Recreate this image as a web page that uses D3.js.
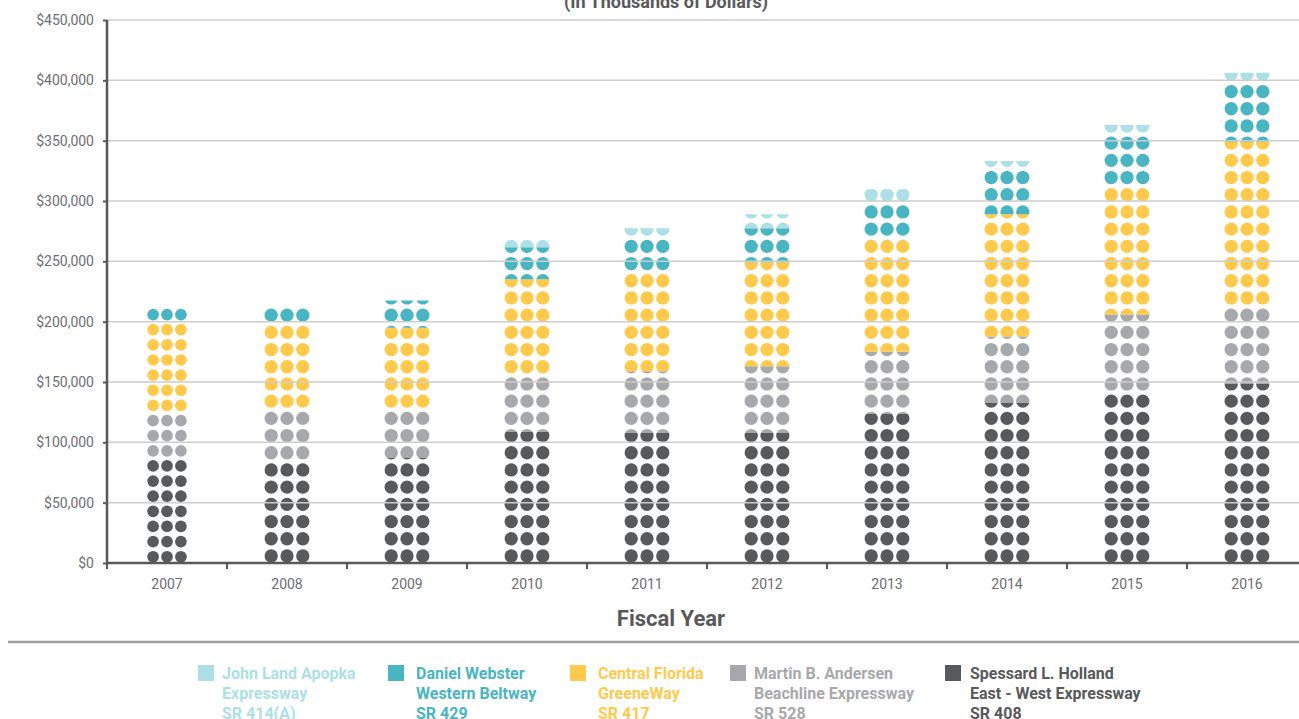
<!DOCTYPE html>
<html><head><meta charset="utf-8">
<script src="https://cdn.jsdelivr.net/npm/d3@7"></script>
<style>body{margin:0;background:#fff;} svg{display:block;font-family:Roboto,"Noto Sans",sans-serif;}</style>
</head><body>
<svg id="chart" width="1299" height="719"></svg>
<script>
// ---- data (thousands of dollars) ----
const years = ["2007","2008","2009","2010","2011","2012","2013","2014","2015","2016"];
const seriesKeys = ["sr408","sr528","sr417","sr429","sr414"];
const sr408 = [86400, 83600, 87500, 108600, 107700, 108200, 123800, 133000, 141500, 148700];
const sr528 = [37400, 42800, 39500, 47200, 51200, 54800, 51200, 54700, 64500, 64300];
const sr417 = [75500, 71600, 68000, 79400, 82800, 86200, 92500, 101300, 107000, 136000];
const sr429 = [12100, 14300, 22600, 26400, 28300, 28200, 31200, 35800, 42800, 49700];
const sr414 = [0, 0, 0, 6300, 7400, 11600, 11100, 8300, 7200, 7500];
const yTicks = [0, 50000, 100000, 150000, 200000, 250000, 300000, 350000, 400000, 450000];
const legendOrder = ["sr414","sr429","sr417","sr528","sr408"];
const legendLines = {
  sr414: ["John Land Apopka","Expressway","SR 414(A)"],
  sr429: ["Daniel Webster","Western Beltway","SR 429"],
  sr417: ["Central Florida","GreeneWay","SR 417"],
  sr528: ["Martin B. Andersen","Beachline Expressway","SR 528"],
  sr408: ["Spessard L. Holland","East - West Expressway","SR 408"]
};
const titleText = "(In Thousands of Dollars)";
const xTitle = "Fiscal Year";

// ---- styles ----
const colors = {sr414:"#acdfe6", sr429:"#49b5c2", sr417:"#ffca4c", sr528:"#a7a8ab", sr408:"#58595b"};
const axisColor = "#58595b", textColor = "#6d6e71", gridColor = "#cdcdcd";

const svg = d3.select("#chart");
const x = d3.scaleBand().domain(years).range([107, 1307]).padding(0);
const y = d3.scaleLinear().domain([0, 450000]).range([563, 20]);

const table = years.map((yr, i) => ({year: yr, sr408: sr408[i], sr528: sr528[i], sr417: sr417[i], sr429: sr429[i], sr414: sr414[i]}));
const stacked = d3.stack().keys(seriesKeys)(table);

// title (partially cut off at top)
svg.append("text").attr("x", 666).attr("y", 8).attr("text-anchor", "middle")
  .attr("font-size", 18).attr("font-weight", 700).attr("fill", "#58595b").text(titleText);

// dots
const defs = svg.append("defs");
const gBars = svg.append("g");
stacked.forEach(layer => {
  layer.forEach((d, i) => {
    if (d[1] - d[0] <= 0) return;
    const yr = years[i];
    const s = yr === "2007" ? 0.88 : 1;
    const pitchY = 17.2 * s, pitchX = 15.8 * s, r = 6.65 * s;
    const cx = x(yr) + x.bandwidth() / 2;
    const top = y(d[1]), bot = y(d[0]);
    const id = `clip-${layer.key}-${yr}`;
    defs.append("clipPath").attr("id", id).append("rect")
      .attr("x", cx - 30).attr("width", 60).attr("y", top).attr("height", bot - top);
    const base = y(0) - r - 0.4;
    const nRows = Math.ceil((y(0) - top) / pitchY) + 1;
    const dots = [];
    d3.range(nRows).forEach(k => {
      const cy = base - k * pitchY;
      if (cy - r < bot && cy + r > top) {
        [-1, 0, 1].forEach(c => dots.push({cx: cx + c * pitchX, cy}));
      }
    });
    gBars.append("g").attr("clip-path", `url(#${id})`)
      .selectAll("circle").data(dots).join("circle")
      .attr("cx", p => p.cx).attr("cy", p => p.cy).attr("r", r)
      .attr("fill", colors[layer.key]);
  });
});

// gridlines (on top of dots)
svg.append("g").selectAll("line").data(yTicks.filter(t => t > 0)).join("line")
  .attr("x1", 107).attr("x2", 1299).attr("y1", t => y(t)).attr("y2", t => y(t))
  .attr("stroke", gridColor).attr("stroke-width", 1.5);

// y axis
const yAxis = svg.append("g").attr("transform", "translate(107,0)")
  .call(d3.axisLeft(y).tickValues(yTicks).tickSize(4).tickPadding(9)
    .tickFormat(v => "$" + d3.format(",")(v)));
yAxis.select(".domain").attr("stroke", axisColor).attr("stroke-width", 2.5).attr("d", `M0,${y(450000)}V${y(0)}`);
yAxis.selectAll(".tick line").attr("stroke", axisColor).attr("stroke-width", 2);
yAxis.selectAll(".tick text").attr("font-size", 14).attr("fill", textColor).attr("font-family", "Roboto");

// x axis
const xAxis = svg.append("g").attr("transform", `translate(0,${y(0)})`)
  .call(d3.axisBottom(x).tickSize(0).tickPadding(16));
xAxis.select(".domain").attr("stroke", axisColor).attr("stroke-width", 2.5).attr("d", `M107,0H1299`);
xAxis.selectAll(".tick text").attr("font-size", 14).attr("fill", textColor).attr("font-family", "Roboto");
xAxis.append("g").selectAll("line").data(years).join("line")
  .attr("x1", d => x(d)).attr("x2", d => x(d)).attr("y1", 0).attr("y2", 6)
  .attr("stroke", axisColor).attr("stroke-width", 2);

// x title
svg.append("text").attr("x", 671).attr("y", 626).attr("text-anchor", "middle")
  .attr("font-size", 22).attr("font-weight", 700).attr("fill", "#58595b").text(xTitle);

// separator
svg.append("line").attr("x1", 8).attr("x2", 1299).attr("y1", 642).attr("y2", 642)
  .attr("stroke", "#9e9ea0").attr("stroke-width", 2.5);

// legend
const swatchX = {sr414: 198, sr429: 388, sr417: 570, sr528: 730, sr408: 945};
const labelX = {sr414: 222, sr429: 416, sr417: 598, sr528: 754, sr408: 970};
const lg = svg.append("g").selectAll("g").data(legendOrder).join("g");
lg.append("rect").attr("x", k => swatchX[k]).attr("y", 665).attr("width", 16).attr("height", 16)
  .attr("fill", k => colors[k]);
lg.append("text").attr("font-size", 16).attr("font-weight", 700).attr("fill", k => colors[k])
  .selectAll("tspan").data(k => legendLines[k].map(t => ({k, t}))).join("tspan")
  .attr("x", o => labelX[o.k]).attr("y", (o, i) => 679 + i * 20).text(o => o.t);
</script>
</body></html>
